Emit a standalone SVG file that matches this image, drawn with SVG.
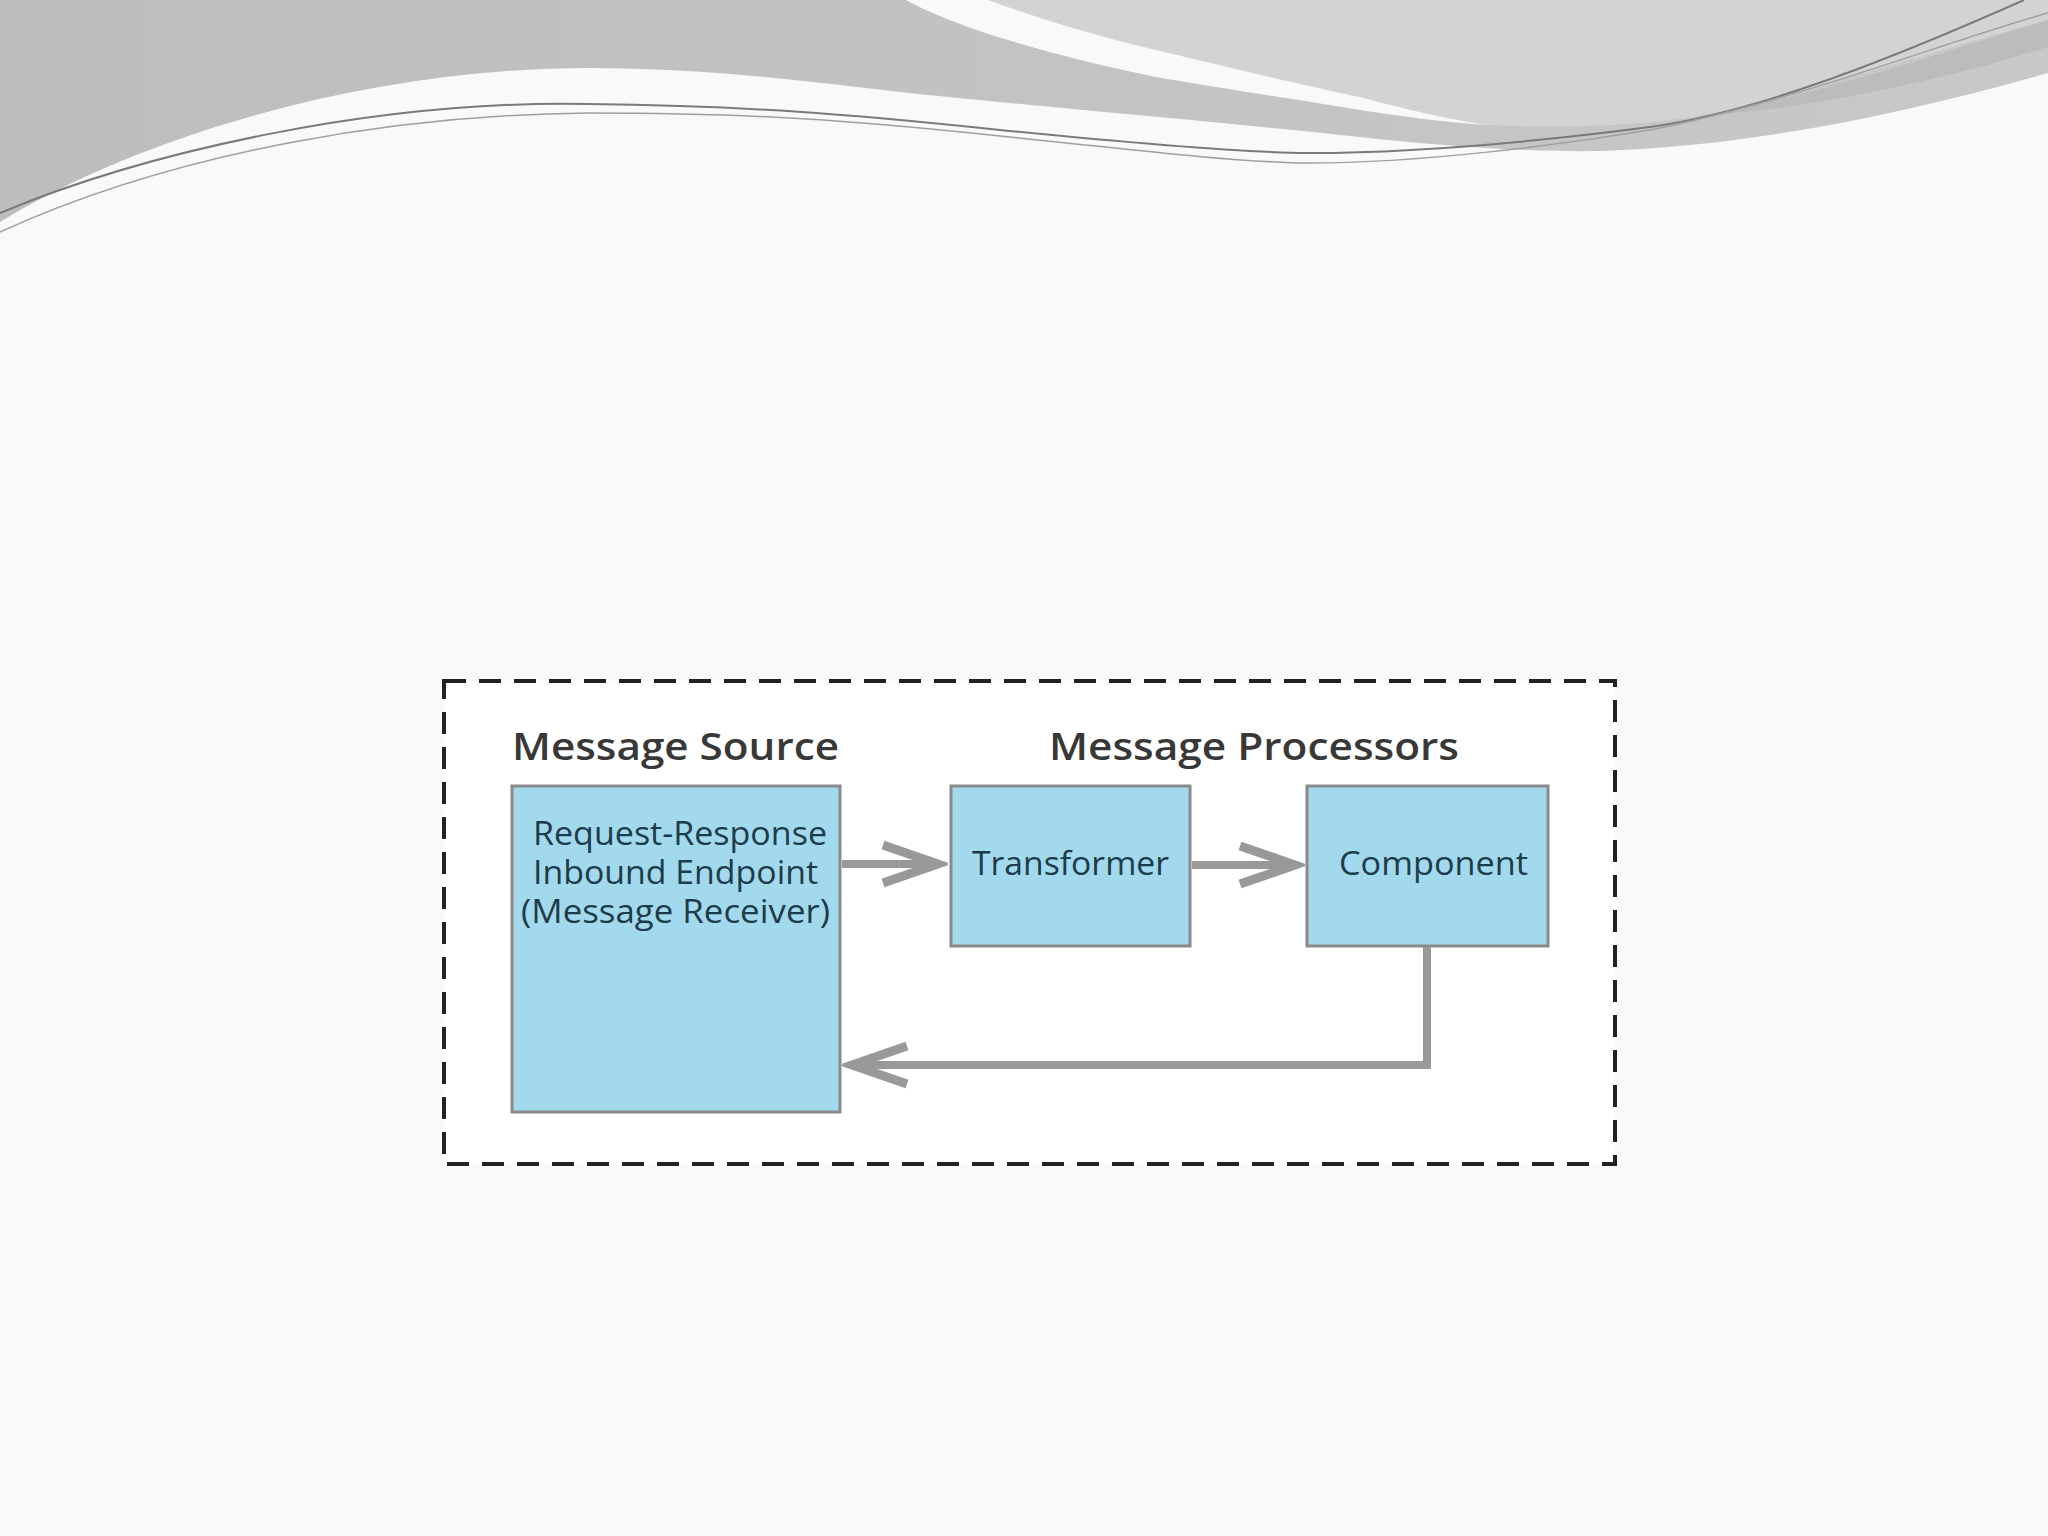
<svg xmlns="http://www.w3.org/2000/svg" width="2048" height="1536" viewBox="0 0 2048 1536">
<defs>
<style>
.box{fill:#a3d9ec;stroke:#8a8a8a;stroke-width:3}
.title{font-family:"Open Sans","Liberation Sans",sans-serif;font-weight:600;font-size:38px;fill:#383838}
.label{font-family:"Open Sans","Liberation Sans",sans-serif;font-weight:500;font-size:32px;fill:#1d3c4b}
.conn{fill:none;stroke:#999;stroke-width:8}
</style>
<linearGradient id="gl" x1="0" y1="0" x2="1" y2="0">
<stop offset="0" stop-color="#bdbdbd"/>
<stop offset="1" stop-color="#c8c8c8"/>
</linearGradient>
<marker id="chev" markerUnits="userSpaceOnUse" markerWidth="80" markerHeight="60" viewBox="-70 -30 80 60" refX="0" refY="0" orient="auto">
<path d="M-55,-19 L0,0 L-55,19" fill="none" stroke="#999" stroke-width="9" stroke-linejoin="miter"/>
</marker>
</defs>
<rect width="2048" height="1536" fill="#f9f9f9"/>
<g id="waves">
<path d="M0,222 C150,130 380,68 588,68 C700,68 800,80 900,92 C1000,103 1200,120 1360,137 C1450,147 1530,152 1600,151 C1750,146 1900,115 2048,73 V0 H0 Z" fill="url(#gl)"/>
<path d="M988,0 H2048 V20 C1930,52 1800,95 1700,116 C1620,128 1550,128 1488,125 C1430,118 1400,108 1360,97 C1280,80 1220,65 1156,50 C1080,32 1030,15 988,0 Z" fill="#d3d3d3"/>
<path d="M1700,116 C1820,95 1950,50 2048,20 V47 C1950,78 1820,108 1700,116 Z" fill="#bcbcbc"/>
<path d="M906,0 L988,0 C1030,15 1080,32 1156,50 C1220,65 1280,80 1360,97 C1400,108 1450,120 1488,125 C1440,122 1400,116 1360,110 C1280,97 1220,88 1156,77 C1060,57 960,30 906,0 Z" fill="#f9f9f9"/>
<path d="M0,213 C150,150 380,100 588,104 C750,106 850,114 1000,130 C1150,145 1250,153 1309,153 C1420,153 1550,140 1650,127 C1760,112 1900,55 2024,0" fill="none" stroke="#7a7a7a" stroke-width="2"/>
<path d="M0,232 C180,150 400,115 588,113 C750,113 850,120 1000,136 C1150,152 1250,163 1309,163 C1420,163 1560,145 1650,130 C1800,100 1950,40 2048,13" fill="none" stroke="#a0a0a0" stroke-width="1.5"/>
</g>
<rect id="container" x="444" y="681" width="1171" height="483" fill="#ffffff" stroke="#222" stroke-width="4" stroke-dasharray="22 13"/>
<text class="title" x="512" y="760" textLength="327" lengthAdjust="spacingAndGlyphs">Message Source</text>
<text class="title" x="1049" y="760" textLength="410" lengthAdjust="spacingAndGlyphs">Message Processors</text>
<g id="source">
<rect class="box" x="512" y="786" width="328" height="326"/>
<text class="label" x="533" y="845" textLength="294" lengthAdjust="spacingAndGlyphs">Request-Response</text>
<text class="label" x="533" y="884" textLength="285" lengthAdjust="spacingAndGlyphs">Inbound Endpoint</text>
<text class="label" x="521" y="923" textLength="309" lengthAdjust="spacingAndGlyphs">(Message Receiver)</text>
</g>
<g id="transformer">
<rect class="box" x="951" y="786" width="239" height="160"/>
<text class="label" x="972" y="875" textLength="197" lengthAdjust="spacingAndGlyphs">Transformer</text>
</g>
<g id="component">
<rect class="box" x="1307" y="786" width="241" height="160"/>
<text class="label" x="1339" y="875" textLength="189" lengthAdjust="spacingAndGlyphs">Component</text>
</g>
<g id="connectors">
<path class="conn" d="M842,864 L938,864" marker-end="url(#chev)"/>
<path class="conn" d="M1192,865 L1295,865" marker-end="url(#chev)"/>
<path class="conn" d="M1427,947 V1065 H852" marker-end="url(#chev)"/>
</g>
</svg>
